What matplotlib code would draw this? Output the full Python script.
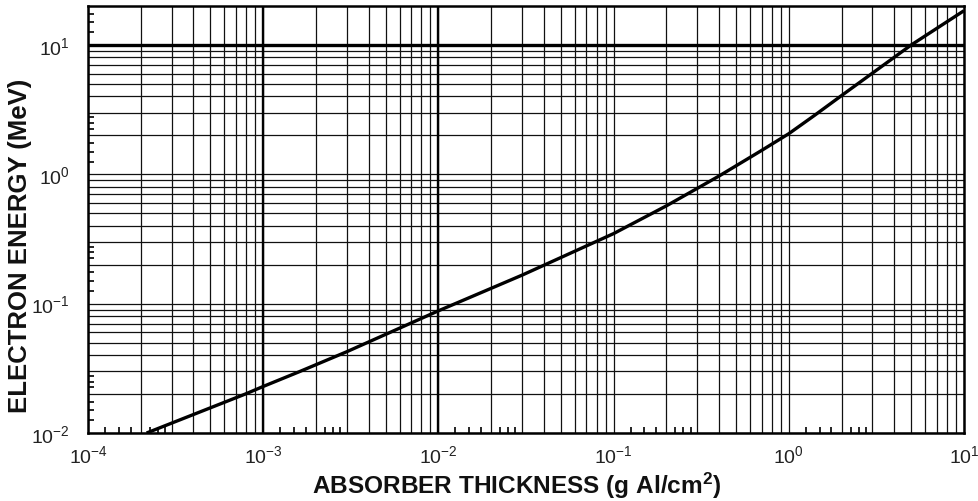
import matplotlib
matplotlib.use("Agg")
import matplotlib.pyplot as plt
from matplotlib.ticker import LogLocator, LogFormatterSciNotation, NullFormatter

plt.rcParams['font.family'] = ['Liberation Sans', 'DejaVu Sans']
plt.rcParams['mathtext.fontset'] = 'custom'
plt.rcParams['mathtext.rm'] = 'Liberation Sans'
plt.rcParams['mathtext.it'] = 'Liberation Sans:italic'
plt.rcParams['mathtext.bf'] = 'Liberation Sans:bold'

# range in aluminium (g/cm2) vs. electron energy (MeV)
thickness = [2.16e-4, 7.9e-4, 1.0e-3, 1.6e-3, 3.0e-3, 1.0e-2, 3.0e-2,
             1.0e-1, 2.0e-1, 4.0e-1, 0.7, 1.0, 1.4, 2.0, 5.0, 10.0]
energy = [0.01, 0.02, 0.0229, 0.0297, 0.0425, 0.088, 0.166,
          0.348, 0.57, 0.97, 1.53, 2.06, 2.85, 4.06, 10.0, 18.4]

x_decades = [1e-4, 1e-3, 1e-2, 1e-1, 1e0, 1e1]
y_decades = [1e-2, 1e-1, 1e0, 1e1]

fig = plt.figure(figsize=(9.79, 5.02), dpi=100)
ax = fig.add_axes([88 / 979, 68 / 502, 876 / 979, 427 / 502])
ax.set_xscale('log')
ax.set_yscale('log')
ax.set_xlim(1e-4, 1e1)
ax.set_ylim(1e-2, 20)

# grid at every 1..9 of each decade
for d in x_decades[:-1]:
    for m in range(2, 10):
        ax.axvline(d * m, color='#111111', lw=0.9, zorder=1)
for d in x_decades:
    ax.axvline(d, color='#111111', lw=0.9, zorder=1)
for d in y_decades[:-1]:
    for m in range(2, 10):
        ax.axhline(d * m, color='#111111', lw=0.9, zorder=1)
for d in y_decades:
    ax.axhline(d, color='#111111', lw=0.9, zorder=1)
# heavier rules
ax.axhline(10, color='black', lw=2.4, zorder=1)
ax.axvline(1e-3, color='black', lw=1.7, zorder=1)
ax.axvline(1e-2, color='black', lw=1.7, zorder=1)

ax.plot(thickness, energy, color='black', lw=2.4, zorder=3,
        solid_capstyle='butt', solid_joinstyle='round')

ax.xaxis.set_major_locator(LogLocator(base=10, numticks=10))
ax.yaxis.set_major_locator(LogLocator(base=10, numticks=10))
ax.xaxis.set_major_formatter(LogFormatterSciNotation())
ax.yaxis.set_major_formatter(LogFormatterSciNotation())
ax.xaxis.set_minor_locator(LogLocator(base=10, subs=[1.25, 1.5, 1.75, 2.25, 2.5, 2.75], numticks=20))
ax.yaxis.set_minor_locator(LogLocator(base=10, subs=[1.25, 1.5, 1.75, 2.25, 2.5, 2.75], numticks=20))
ax.xaxis.set_minor_formatter(NullFormatter())
ax.yaxis.set_minor_formatter(NullFormatter())

ax.tick_params(which='both', direction='in', top=False, right=False, color='black')
ax.tick_params(which='major', length=0, labelsize=14, labelcolor='#222222')
ax.tick_params(which='minor', length=4, width=1.2)
ax.tick_params(axis='x', which='major', pad=8)
ax.tick_params(axis='y', which='major', pad=13)

for s in ax.spines.values():
    s.set_linewidth(1.8)
    s.set_zorder(4)

fig.text(20 / 979, 1 - 246 / 502, 'ELECTRON ENERGY (MeV)', rotation=90,
         ha='center', va='center', fontsize=18.5, fontweight='bold', color='#111111')
fig.text(517 / 979, 1 - 486 / 502, r'ABSORBER THICKNESS (g Al/cm$\mathbf{^{2}}$)',
         ha='center', va='center', fontsize=17.6, fontweight='bold', color='#111111')

fig.savefig('out.png', dpi=100)
